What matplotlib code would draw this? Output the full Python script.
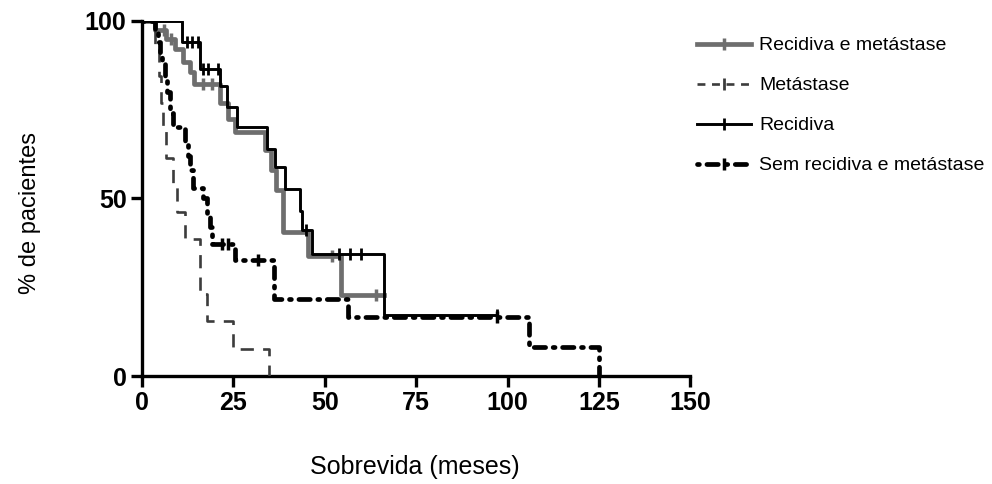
import numpy as np
import matplotlib
matplotlib.use("Agg")
import matplotlib.pyplot as plt
from matplotlib.lines import Line2D

plt.rcParams['font.family'] = ['Liberation Sans', 'DejaVu Sans']

# Recidiva e metástase (cinza)
t_rm = [0, 3.5, 6.5, 9.0, 11.3, 13.2, 14.3, 21.5, 23.5, 25.5, 33.6, 35.3, 36.7, 38.6, 45.4, 54.5, 66.3]
s_rm = [100, 97.5, 95, 92, 88.5, 85.5, 82.2, 77, 72.5, 68.6, 63.5, 58, 52.5, 40.5, 33.7, 22.8, 22.8]
c_rm_t = [6.0, 8.0, 16.7, 19.1, 52.0, 63.9]
c_rm_s = [97.5, 95, 82.2, 82.2, 33.7, 22.8]

# Metástase
t_m = [0, 3.5, 4.8, 5.3, 5.8, 6.6, 8.6, 9.5, 11.8, 15.9, 17.7, 24.8, 34.8]
s_m = [100, 92.3, 84.6, 76.9, 69.2, 61.5, 53.8, 46.2, 38.5, 23.1, 15.4, 7.7, 0]

# Recidiva
t_r = [0, 11.0, 15.9, 21.5, 23.2, 25.9, 34.1, 36.4, 39.1, 43.2, 43.9, 46.4, 66.1, 97.0]
s_r = [100, 93.9, 86.4, 81.7, 75.6, 70.0, 64.0, 58.8, 52.7, 46.6, 41.0, 34.5, 17.3, 17.3]
c_r_t = [12.3, 13.6, 15.4, 16.7, 18.1, 20.8, 45.0, 53.9, 56.8, 60.0, 97.0]
c_r_s = [93.9, 93.9, 93.9, 86.4, 86.4, 86.4, 41.0, 34.5, 34.5, 34.5, 17.3]

# Sem recidiva e metástase
t_s = [0, 3.6, 4.5, 5.0, 5.6, 6.3, 7.0, 7.7, 8.6, 11.8, 12.6, 13.2, 14.1, 16.7, 17.7, 18.6,
       19.1, 25.6, 36.1, 56.5, 105.9, 125.0]
s_s = [100, 97, 94, 91, 88, 84, 80, 74, 70, 66, 62, 58, 53, 50, 46, 42,
       37.3, 32.6, 21.8, 16.7, 8.2, 0]
c_s_t = [22.0, 23.5, 31.7, 97.0]
c_s_s = [37.3, 37.3, 32.6, 16.7]

labels = ["Recidiva e metástase", "Metástase", "Recidiva", "Sem recidiva e metástase"]

fig = plt.figure(figsize=(9.92, 4.84), dpi=100)
ax = fig.add_axes([0.143, 0.223, 0.553, 0.734])

gray = "#6e6e6e"
dgray = "#3c3c3c"
dots = (0.4, 1.6, 2.4, 1.6)

ax.step(t_rm, s_rm, where="post", color=gray, lw=3.4, zorder=2)
ax.plot(c_rm_t, c_rm_s, ls="none", marker="|", ms=9, mew=2.5, color=gray, zorder=2)

ax.step(t_m, s_m, where="post", color=dgray, lw=1.9, dashes=(5, 3.5), zorder=3)

ax.step(t_r, s_r, where="post", color="black", lw=2.1, zorder=4)
ax.plot(c_r_t, c_r_s, ls="none", marker="|", ms=8, mew=2, color="black", zorder=4)

ln, = ax.step(t_s, s_s, where="post", color="black", lw=3.4, zorder=5)
ln.set_dashes(dots)
ln.set_dash_capstyle("round")
ax.plot(c_s_t, c_s_s, ls="none", marker="|", ms=8, mew=2.5, color="black", zorder=5)

ax.set_xlim(0, 150)
ax.set_ylim(0, 100)
ax.set_xticks(np.arange(0, 151, 25))
ax.set_yticks([0, 50, 100])
for sp in ["top", "right"]:
    ax.spines[sp].set_visible(False)
for sp in ["left", "bottom"]:
    ax.spines[sp].set_linewidth(2.4)
ax.tick_params(direction="out", length=8, width=2.4, labelsize=18, pad=3)
for lab in ax.get_xticklabels() + ax.get_yticklabels():
    lab.set_fontweight("bold")

fig.text(0.03, 0.56, "% de pacientes", rotation=90, ha="center", va="center", fontsize=17)
fig.text(0.418, 0.035, "Sobrevida (meses)", ha="center", va="center", fontsize=18)

handles = [
    Line2D([], [], color=gray, lw=3.4, marker="|", ms=9, mew=2.5),
    Line2D([], [], color=dgray, lw=1.9, dashes=(3, 2.5), marker="|", ms=8, mew=2),
    Line2D([], [], color="black", lw=2.1, marker="|", ms=8, mew=2),
    Line2D([], [], color="black", lw=3.4, dashes=dots, dash_capstyle="round", marker="|", ms=8, mew=2.5),
]
fig.legend(handles, labels, loc="upper left", bbox_to_anchor=(0.685, 0.960), frameon=False,
           fontsize=14, handlelength=2.8, handletextpad=0.4, labelspacing=1.15, numpoints=1,
           borderpad=0.4)

fig.savefig("out.png", dpi=100)
